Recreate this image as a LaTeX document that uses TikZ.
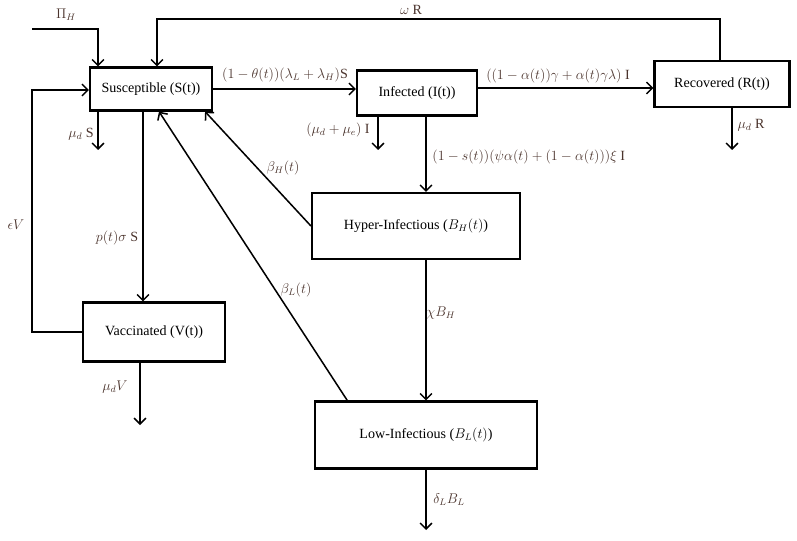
\documentclass[tikz,border=0pt]{standalone}
\usepackage{fontspec}
\setmainfont{Liberation Serif}
\usetikzlibrary{arrows.meta}
\definecolor{etiqcolor}{RGB}{75,52,45}
\tikzset{
  caja/.style={draw, line width=1.8pt, inner sep=0pt, font=\fontsize{12}{14}\selectfont},
  flecha/.style={line width=1.3pt, -{Straight Barb[length=5pt,width=10pt]}},
  etiq/.style={text=etiqcolor, font=\fontsize{12}{14}\selectfont, inner sep=1pt},
}
\begin{document}
\begin{tikzpicture}[x=0.03cm, y=-0.03cm]
\useasboundingbox (0,0) rectangle (797,540);
%
% cajas: centro, ancho, alto
\node[caja, minimum width=3.66cm, minimum height=1.29cm] (S) at (151,89) {Susceptible (S(t))};
\node[caja, minimum width=3.60cm, minimum height=1.35cm] (I) at (417,93) {Infected (I(t))};
\node[caja, minimum width=4.05cm, minimum height=1.38cm] (R) at (722,84) {Recovered (R(t))};
\node[caja, minimum width=6.24cm, minimum height=1.98cm] (BH) at (416,226) {Hyper-Infectious ($B_H(t)$)};
\node[caja, minimum width=4.26cm, minimum height=1.77cm] (V) at (154,332) {Vaccinated (V(t))};
\node[caja, minimum width=6.66cm, minimum height=2.01cm] (BL) at (426,435) {Low-Infectious ($B_L(t)$)};
%
% puntos libres
\coordinate (pin) at (32,29);
\coordinate (pcorner) at (98,29);
\coordinate (wR) at (720,19);
\coordinate (wS) at (157,19);
\coordinate (eV1) at (32,332);
\coordinate (eV2) at (32,90);
\coordinate (dS) at (98,150);
\coordinate (dI) at (378,150);
\coordinate (dR) at (732,150);
\coordinate (dV) at (140,425);
\coordinate (dBL) at (426,530);
%
% flechas
\draw[flecha] (pin) -- (pcorner) -- (S.north -| pcorner);
\draw[flecha] (R.north -| wR) -- (wR) -- (wS) -- (S.north -| wS);
\draw[flecha] (V.west) -- (eV1) -- (eV2) -- (S.west |- eV2);
\draw[flecha] (S.east) -- (S.east -| I.west);
\draw[flecha] ([yshift=0.15cm]I.east) -- ([yshift=0.15cm]I.east -| R.west);
\draw[flecha] (S.south -| dS) -- (dS);
\draw[flecha] (I.south -| dI) -- (dI);
\draw[flecha] (R.south -| dR) -- (dR);
\draw[flecha] (V.south -| dV) -- (dV);
\draw[flecha] (BL.south -| dBL) -- (dBL);
\draw[flecha] ([xshift=-0.24cm]S.south) -- ([xshift=-0.24cm]S.south |- V.north);
\draw[flecha] ([xshift=0.27cm]I.south) -- ([xshift=0.27cm]I.south |- BH.north);
\draw[flecha] (BH.south -| BL.north) -- (BL.north);
\draw[flecha] (BH.west) -- ([xshift=-0.24cm]S.south east);
\draw[flecha] ([xshift=1cm]BL.north west) -- ([xshift=0.24cm]S.south);
%
% etiquetas
\node[etiq] (lPi) at (66,15) {$\Pi_H$};
\node[etiq] (lw) at (411,10) {$\omega$ R};
\node[etiq] (lSI) at (285,75) {$(1-\theta(t))(\lambda_L+\lambda_H)$S};
\node[etiq] (lIR) at (558,76) {$((1-\alpha(t))\gamma+\alpha(t)\gamma\lambda)$ I};
\node[etiq] (ldS) at (81,134) {$\mu_d$ S};
\node[etiq] (ldI) at (338,130) {$(\mu_d+\mu_e)$ I};
\node[etiq] (ldR) at (751,125) {$\mu_d$ R};
\node[etiq, anchor=west] (lIB) at (431,157) {$(1-s(t))(\psi\alpha(t)+(1-\alpha(t)))\xi$ I};
\node[etiq] (lbH) at (283,168) {$\beta_H(t)$};
\node[etiq] (lSV) at (117,238) {$p(t)\sigma$ S};
\node[etiq] (leV) at (16,225) {$\epsilon V$};
\node[etiq] (lbL) at (296,290) {$\beta_L(t)$};
\node[etiq] (lchi) at (441,313) {$\chi B_H$};
\node[etiq] (ldV) at (115,387) {$\mu_d V$};
\node[etiq] (ldL) at (449,500) {$\delta_L B_L$};
%
\end{tikzpicture}
\end{document}
